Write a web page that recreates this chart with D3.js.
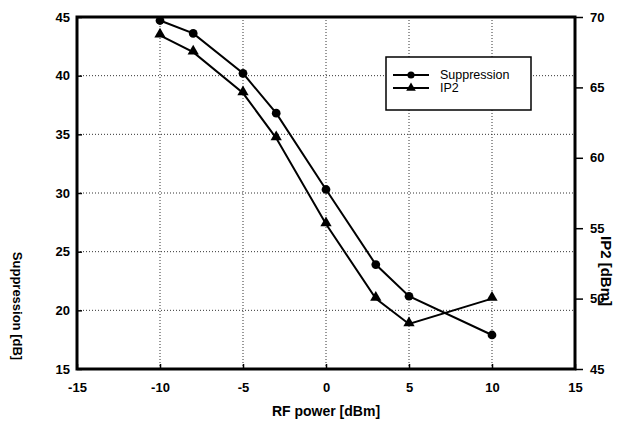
<!DOCTYPE html>
<html>
<head>
<meta charset="utf-8">
<script src="https://cdn.jsdelivr.net/npm/d3@7/dist/d3.min.js"></script>
<style>
body{margin:0;background:#fff;}
text{font-family:"Liberation Sans",Arial,sans-serif;fill:#000;}
</style>
</head>
<body>
<svg width="620" height="429"></svg>
<script>
// values
const rfPower=[-10,-8,-5,-3,0,3,5,10];
const suppression=[44.7,43.6,40.2,36.8,30.3,23.9,21.2,17.9];
const ip2=[68.7,67.5,64.6,61.4,55.3,50.0,48.2,50.0];
const xTicks=[-15,-10,-5,0,5,10,15];
const leftTicks=[15,20,25,30,35,40,45];
const rightTicks=[45,50,55,60,65,70];

const svg=d3.select('svg');
const margin={top:17,right:45,bottom:60,left:77};
const W=620,H=429;

const x=d3.scaleLinear().domain([-15,15]).range([margin.left,W-margin.right]);
const yL=d3.scaleLinear().domain([15,45]).range([H-margin.bottom,margin.top]);
const yR=d3.scaleLinear().domain([45,70]).range([H-margin.bottom,margin.top]);

const g=svg.append('g');

/****** grid (dotted) ******/
g.selectAll('.vgrid').data(xTicks.slice(1,-1)).enter().append('line')
 .attr('x1',d=>x(d)).attr('x2',d=>x(d))
 .attr('y1',yL(45)).attr('y2',yL(15))
 .attr('stroke','#333').attr('stroke-width',1).attr('stroke-dasharray','1,2');
g.selectAll('.hgrid').data(leftTicks.slice(1,-1)).enter().append('line')
 .attr('x1',x(-15)).attr('x2',x(15))
 .attr('y1',d=>yL(d)).attr('y2',d=>yL(d))
 .attr('stroke','#333').attr('stroke-width',1).attr('stroke-dasharray','1,2');

/****** axes ******/
const fmt=d=>String(d); // plain hyphen minus like the original
const bottomAxis=d3.axisBottom(x).tickValues(xTicks).tickSize(-5).tickPadding(14).tickFormat(fmt);
const leftAxis=d3.axisLeft(yL).tickValues(leftTicks).tickSize(-5).tickPadding(7).tickFormat(fmt);
const rightAxis=d3.axisRight(yR).tickValues(rightTicks).tickSize(8).tickPadding(7).tickFormat(fmt);

const styleAxis=sel=>{
  sel.select('.domain').remove();
  sel.selectAll('line').attr('stroke','#000').attr('stroke-width',1.5);
  sel.selectAll('text').style('font-size','13px').style('font-weight','bold')
    .style('font-family','"Liberation Sans",Arial,sans-serif');
};
g.append('g').attr('transform',`translate(0,${yL(15)})`).call(bottomAxis).call(styleAxis);
g.append('g').attr('transform',`translate(${x(-15)},0)`).call(leftAxis).call(styleAxis);
g.append('g').attr('transform',`translate(${x(15)},0)`).call(rightAxis).call(styleAxis);

// frame
g.append('rect')
 .attr('x',x(-15)).attr('y',yL(45))
 .attr('width',x(15)-x(-15)).attr('height',yL(15)-yL(45))
 .attr('fill','none').attr('stroke','#000').attr('stroke-width',3);

/****** lines ******/
const lineS=d3.line().x((d,i)=>x(rfPower[i])).y(d=>yL(d));
const lineI=d3.line().x((d,i)=>x(rfPower[i])).y(d=>yR(d));
g.append('path').datum(suppression).attr('d',lineS)
 .attr('fill','none').attr('stroke','#000').attr('stroke-width',2);
g.append('path').datum(ip2).attr('d',lineI)
 .attr('fill','none').attr('stroke','#000').attr('stroke-width',2);

const circ=d3.symbol().type(d3.symbolCircle).size(60);
const tri=d3.symbol().type(d3.symbolTriangle).size(55);
g.selectAll('.ms').data(suppression).enter().append('path')
 .attr('d',circ).attr('transform',(d,i)=>`translate(${x(rfPower[i])},${yL(d)})`);
g.selectAll('.mi').data(ip2).enter().append('path')
 .attr('d',tri).attr('transform',(d,i)=>`translate(${x(rfPower[i])},${yR(d)-1})`);

/****** labels ******/
svg.append('text').attr('x',x(0)).attr('y',416).attr('text-anchor','middle')
 .style('font-size','14px').style('font-weight','bold').text('RF power [dBm]');
svg.append('text').attr('transform','translate(13,306) rotate(90)').attr('text-anchor','middle')
 .style('font-size','13px').style('font-weight','bold').text('Suppression [dB]');
svg.append('text').attr('transform','translate(601,271) rotate(90)').attr('text-anchor','middle')
 .style('font-size','15px').style('font-weight','bold').text('IP2 [dBm]');

/****** legend ******/
const leg=svg.append('g').attr('transform','translate(386,57)');
leg.append('rect').attr('width',145).attr('height',53)
 .attr('fill','#fff').attr('stroke','#000').attr('stroke-width',1.5);
const items=[{name:'Suppression',sym:circ},{name:'IP2',sym:tri}];
const row=leg.selectAll('.row').data(items).enter().append('g')
 .attr('transform',(d,i)=>`translate(0,${18+i*13})`);
row.append('line').attr('x1',7).attr('x2',43).attr('stroke','#000').attr('stroke-width',2);
row.append('path').attr('d',d=>d.sym.size(40)()).attr('transform','translate(25,0)');
row.append('text').attr('x',54).attr('y',4).style('font-size','12.5px').text(d=>d.name);
</script>
</body>
</html>
